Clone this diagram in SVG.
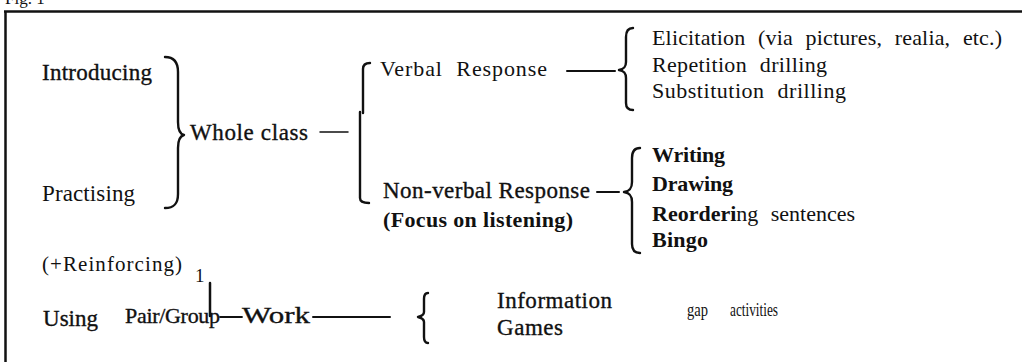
<svg xmlns="http://www.w3.org/2000/svg" width="1022" height="362" viewBox="0 0 1022 362">
<style>
  text { font-family: "Liberation Serif", "Times New Roman", serif; font-size: 22px; fill: #111; }
  .c { font-size: 23px; stroke: #111; stroke-width: 0.35; }
  .b { font-weight: bold; }
  .ws { word-spacing: 7px; }
  .cond { font-size: 19px; }
  .ln { stroke: #111; fill: none; stroke-linecap: round; stroke-linejoin: round; }
  .br { stroke: #111; fill: none; stroke-width: 2.4; stroke-linecap: round; stroke-linejoin: round; }
</style>
<rect x="0" y="0" width="1022" height="362" fill="#fff"/>
<g id="frame">
  <text x="5" y="4" style="font-size:17px">Fig. 1</text>
  <line x1="4" y1="11.5" x2="1022" y2="11.5" stroke="#111" stroke-width="2.5"/>
  <line x1="5.5" y1="11" x2="5.5" y2="362" stroke="#111" stroke-width="2.5"/>
</g>
<g id="connectors">
  <path class="br" d="M165,57 C174,57 178,62 178,72 L178,122 C178,130 180,134 184,135 C180,136 178,140 178,148 L178,194 C178,204 174,208 165,208"/>
  <path class="br" d="M370,63 C366,63 363,65 363,69 L363,113"/>
  <path class="br" d="M360,112 L360,198 C360,201 362,203 369,203"/>
  <line class="ln" x1="320" y1="132" x2="348" y2="132" stroke-width="1.5"/>
  <line class="ln" x1="567" y1="71" x2="615" y2="71" stroke-width="2"/>
  <path class="br" d="M633,28 C628,28 626,31 626,37 L626,62 C626,67 624,69 619,70 C624,71 626,73 626,78 L626,103 C626,108 628,110 633,110"/>
  <line class="ln" x1="597" y1="192" x2="619" y2="192" stroke-width="2"/>
  <path class="br" d="M640,148 C635,148 632,151 632,158 L632,182 C632,188 630,191 624,192 C630,193 632,196 632,202 L632,244 C632,250 635,253 640,253"/>
  <line class="ln" x1="210" y1="283" x2="210" y2="316" stroke-width="2.5"/>
  <line class="ln" x1="220" y1="317" x2="242" y2="317" stroke-width="1.8"/>
  <line class="ln" x1="313" y1="317" x2="390" y2="317" stroke-width="2"/>
  <path class="br" d="M428,293 C425,293 424,295 424,299 L424,312 C424,315 422,316 418,317 C422,318 424,319 424,322 L424,337 C424,341 425,343 428,343"/>
</g>
<g id="introducing"><text class="c" x="42" y="80" textLength="110">Introducing</text></g>
<g id="practising"><text x="42" y="201" style="font-size:23px" textLength="93">Practising</text></g>
<g id="whole-class"><text class="c" x="190" y="140" textLength="118">Whole class</text></g>
<g id="verbal-response"><text class="ws" x="380" y="76" textLength="167">Verbal Response</text></g>
<g id="nonverbal-response">
  <text class="c" x="383" y="198" textLength="207">Non-verbal Response</text>
  <text class="b" x="383" y="227" textLength="190">(Focus on listening)</text>
</g>
<g id="verbal-items">
  <text class="ws" x="652" y="45" textLength="350">Elicitation (via pictures, realia, etc.)</text>
  <text class="ws" x="652" y="72" textLength="175">Repetition drilling</text>
  <text class="ws" x="652" y="98" textLength="194">Substitution drilling</text>
</g>
<g id="nonverbal-items">
  <text class="b" x="652" y="162" textLength="73">Writing</text>
  <text class="b" x="652" y="191" textLength="81">Drawing</text>
  <text x="652" y="221"><tspan class="b">Reorderi</tspan><tspan class="ws">ng sentences</tspan></text>
  <text class="b" x="652" y="247" textLength="56">Bingo</text>
</g>
<g id="reinforcing"><text x="42" y="271" style="font-size:21px" textLength="140">(+Reinforcing)</text></g>
<g id="one"><text x="195" y="282" style="font-size:19px">1</text></g>
<g id="using"><text class="c" x="43" y="326" textLength="55">Using</text></g>
<g id="pair-group-work">
  <text class="c" x="125" y="323" style="font-size:22px" textLength="95">Pair/Group</text>
  <text class="c" x="242" y="323" style="font-size:24px" textLength="68" lengthAdjust="spacingAndGlyphs">Work</text>
</g>
<g id="pair-items">
  <text class="c" x="497" y="308" textLength="115">Information</text>
  <text class="c" x="497" y="335" textLength="66">Games</text>
</g>
<g id="gap-activities">
  <text class="cond" x="687" y="316" textLength="21" lengthAdjust="spacingAndGlyphs">gap</text>
  <text class="cond" x="730" y="316" textLength="48" lengthAdjust="spacingAndGlyphs">activities</text>
</g>
</svg>
